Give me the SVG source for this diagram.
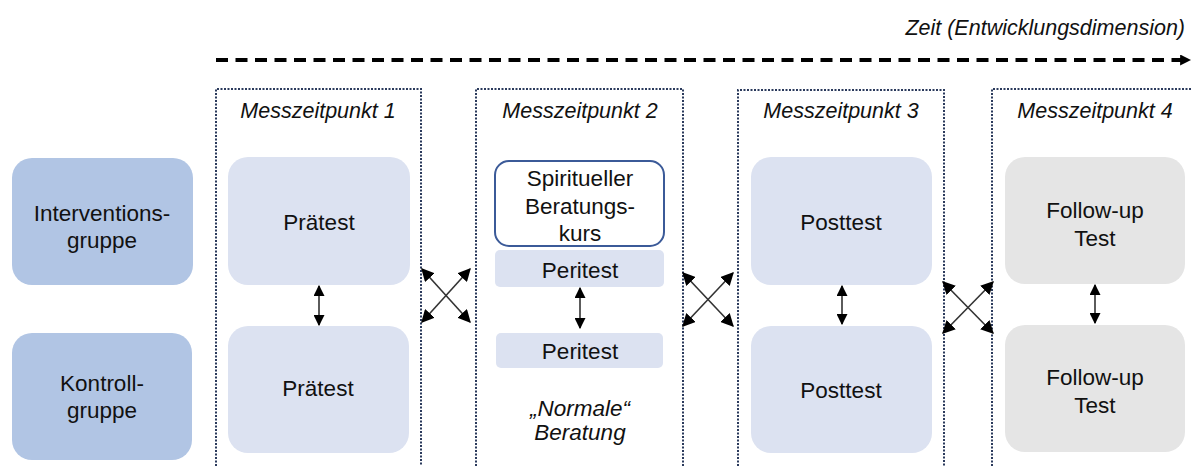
<svg xmlns="http://www.w3.org/2000/svg" width="1192" height="466" viewBox="0 0 1192 466">
<style>
text{font-family:"Liberation Sans",Arial,sans-serif;fill:#111;text-anchor:middle}
.hd{font-size:21.5px;font-style:italic}
.lb{font-size:22.5px}
.frame{fill:none;stroke:#2b3a5c;stroke-width:2;stroke-dasharray:2 1.5}
.grp{fill:#b1c5e4}
.tst{fill:#dce2f1}
.fu{fill:#e5e5e5}
.ln{stroke:#333;stroke-width:1.6;fill:none;marker-start:url(#ah);marker-end:url(#ah)}
.lx{stroke:#333;stroke-width:1.6;fill:none;marker-start:url(#ahx);marker-end:url(#ahx)}
</style>
<defs>
<marker id="ah" viewBox="0 0 10 10" refX="9" refY="5" markerWidth="11" markerHeight="11" markerUnits="userSpaceOnUse" orient="auto-start-reverse"><path d="M0,0 L10,5 L0,10 z" fill="#000"/></marker>
<marker id="ahx" viewBox="0 0 10 10" refX="9" refY="5" markerWidth="13" markerHeight="13" markerUnits="userSpaceOnUse" orient="auto-start-reverse"><path d="M0,0 L10,5 L0,10 z" fill="#000"/></marker>
<marker id="tah" viewBox="0 0 10 10" refX="9" refY="5" markerWidth="11" markerHeight="11" markerUnits="userSpaceOnUse" orient="auto"><path d="M0,0 L10,5 L0,10 z" fill="#000"/></marker>
</defs>
<g id="timeline">
<text x="1185" y="35" class="hd" style="text-anchor:end">Zeit (Entwicklungsdimension)</text>
<line x1="216" y1="60" x2="1190" y2="60" stroke="#000" stroke-width="4" stroke-dasharray="12 7.5" marker-end="url(#tah)"/>
</g>
<g id="frame1"><path class="frame" d="M216,466 V89 H421 V466"/><text x="318" y="118" class="hd">Messzeitpunkt 1</text></g>
<g id="frame2"><path class="frame" d="M476,466 V89 H683 V466"/><text x="580" y="118" class="hd">Messzeitpunkt 2</text></g>
<g id="frame3"><path class="frame" d="M738,466 V90 H944 V466"/><text x="841" y="118" class="hd">Messzeitpunkt 3</text></g>
<g id="frame4"><path class="frame" d="M992,466 V89 H1194"/><text x="1095" y="118" class="hd">Messzeitpunkt 4</text></g>
<g id="interventionsgruppe"><rect class="grp" x="12" y="158" width="181" height="127" rx="20"/><text class="lb" x="102" y="221">Interventions-</text><text class="lb" x="102" y="248">gruppe</text></g>
<g id="kontrollgruppe"><rect class="grp" x="12" y="333" width="180" height="127" rx="20"/><text class="lb" x="102" y="391">Kontroll-</text><text class="lb" x="102" y="418">gruppe</text></g>
<g id="praetest1"><rect class="tst" x="228" y="157" width="182" height="128" rx="20"/><text class="lb" x="319" y="230">Prätest</text></g>
<g id="praetest2"><rect class="tst" x="228" y="326" width="181" height="127" rx="20"/><text class="lb" x="318" y="396">Prätest</text></g>
<g id="kurs"><rect x="495" y="161" width="169" height="85" rx="14" fill="#fff" stroke="#3b5a98" stroke-width="2"/><text class="lb" x="580" y="186">Spiritueller</text><text class="lb" x="580" y="214">Beratungs-</text><text class="lb" x="580" y="241">kurs</text></g>
<g id="peritest1"><rect class="tst" x="495" y="250" width="169" height="37" rx="5"/><text class="lb" x="580" y="278">Peritest</text></g>
<g id="peritest2"><rect class="tst" x="496" y="333" width="167" height="35" rx="5"/><text class="lb" x="580" y="359">Peritest</text></g>
<g id="normale"><text class="lb" x="580" y="416" style="font-style:italic">„Normale“</text><text class="lb" x="580" y="440" style="font-style:italic">Beratung</text></g>
<g id="posttest1"><rect class="tst" x="751" y="157" width="181" height="128" rx="20"/><text class="lb" x="841" y="230">Posttest</text></g>
<g id="posttest2"><rect class="tst" x="751" y="326" width="181" height="127" rx="20"/><text class="lb" x="841" y="398">Posttest</text></g>
<g id="followup1"><rect class="fu" x="1005" y="157" width="180" height="127" rx="20"/><text class="lb" x="1095" y="218">Follow-up</text><text class="lb" x="1095" y="246">Test</text></g>
<g id="followup2"><rect class="fu" x="1005" y="325" width="180" height="127" rx="20"/><text class="lb" x="1095" y="385">Follow-up</text><text class="lb" x="1095" y="413">Test</text></g>
<g id="connectors">
<line class="ln" x1="319" y1="286" x2="319" y2="325"/>
<line class="ln" x1="580" y1="288" x2="580" y2="328"/>
<line class="ln" x1="842" y1="286" x2="842" y2="324"/>
<line class="ln" x1="1095" y1="285" x2="1095" y2="323"/>
<line class="lx" x1="422" y1="269" x2="470" y2="322"/>
<line class="lx" x1="422" y1="322" x2="470" y2="269"/>
<line class="lx" x1="683" y1="273" x2="733" y2="326"/>
<line class="lx" x1="683" y1="326" x2="733" y2="273"/>
<line class="lx" x1="943" y1="282" x2="993" y2="333"/>
<line class="lx" x1="943" y1="333" x2="993" y2="282"/>
</g>
</svg>
